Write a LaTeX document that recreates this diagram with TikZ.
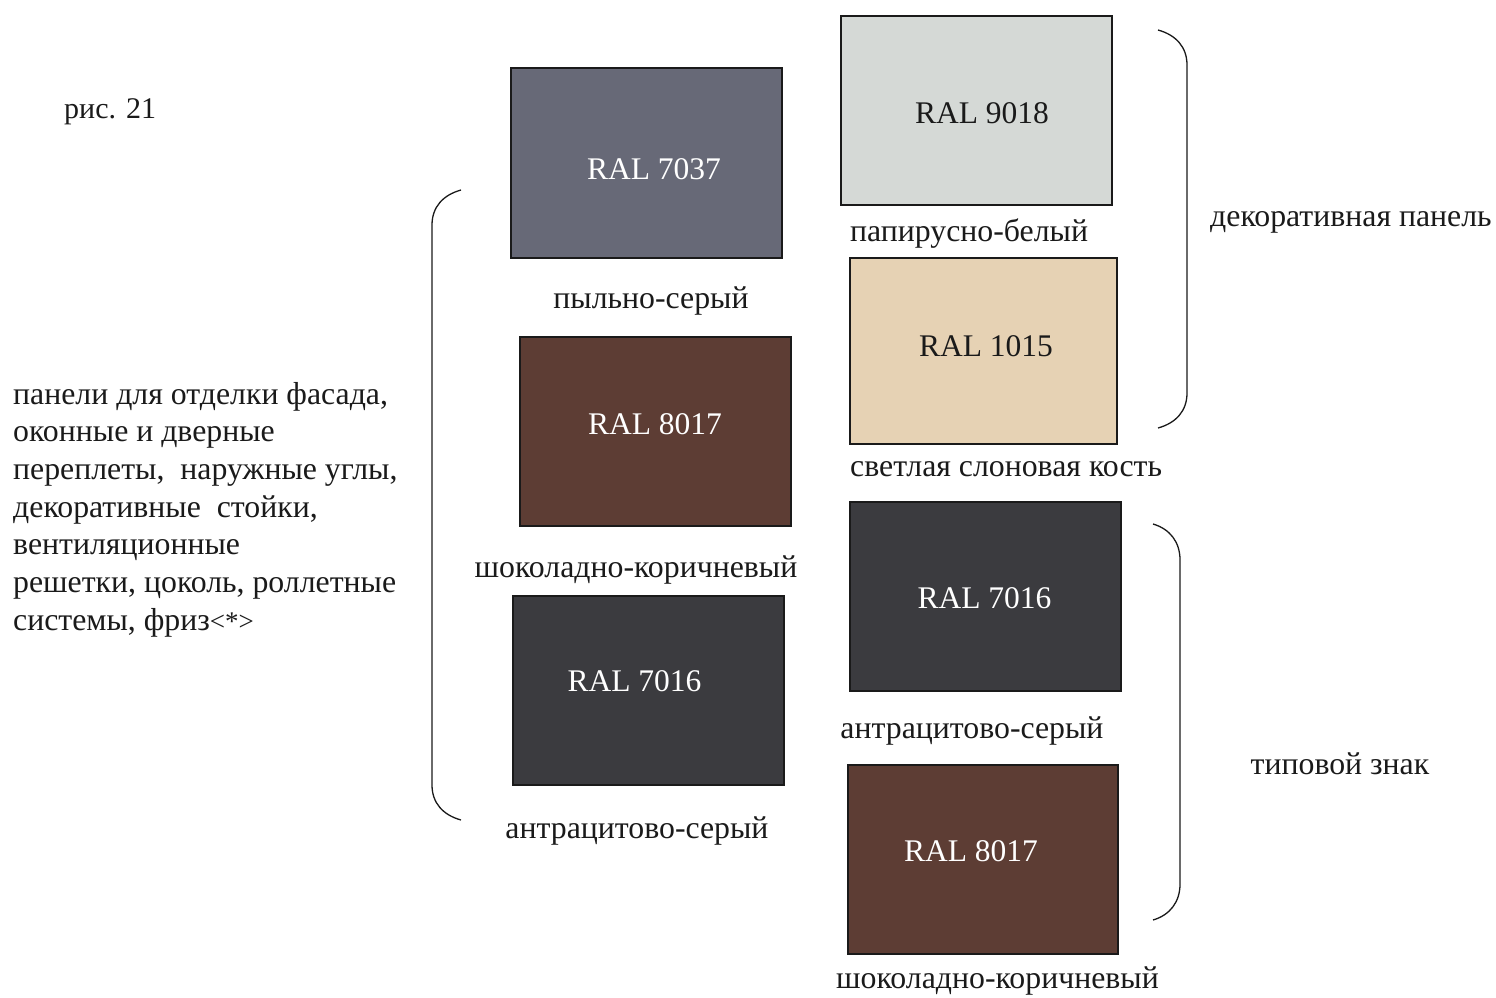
\documentclass[tikz,border=0pt]{standalone}
\usepackage{fontspec}
\setmainfont{Liberation Serif}
\definecolor{c7037}{HTML}{676977}
\definecolor{c9018}{HTML}{D5D9D6}
\definecolor{c1015}{HTML}{E6D2B4}
\definecolor{c8017}{HTML}{5D3D34}
\definecolor{c7016}{HTML}{3B3B3F}
\definecolor{ink}{HTML}{1A1A1A}
\begin{document}
\begin{tikzpicture}[x=1pt,y=-1pt,
  swatch/.style={draw=ink, line width=1.4pt, inner sep=0pt},
  txt/.style={inner sep=0pt, text=ink, font=\fontsize{31.8}{36}\selectfont},
  ral/.style={inner sep=0pt, text=white, anchor=base, font=\fontsize{31.5}{36}\selectfont},
  brace/.style={draw=ink, line width=1.3pt}]
\useasboundingbox (0,0) rectangle (1496,998);
% swatches
\node[swatch, fill=c7037, minimum width=271pt, minimum height=190pt] (s1) at (646.5,163) {};
\node[swatch, fill=c9018, minimum width=271pt, minimum height=189pt] (s2) at (976.5,110.5) {};
\node[swatch, fill=c1015, minimum width=267pt, minimum height=186pt] (s3) at (983.5,351) {};
\node[swatch, fill=c8017, minimum width=271pt, minimum height=189pt] (s4) at (655.5,431.5) {};
\node[swatch, fill=c7016, minimum width=271pt, minimum height=189pt] (s5) at (648.5,690.5) {};
\node[swatch, fill=c7016, minimum width=271pt, minimum height=189pt] (s6) at (985.5,596.5) {};
\node[swatch, fill=c8017, minimum width=270pt, minimum height=189pt] (s7) at (983,859.5) {};
% RAL labels
\node[ral] (r1) at (654,179) {RAL 7037};
\node[ral, text=ink] (r2) at (982,123) {RAL 9018};
\node[ral, text=ink] (r3) at (986,356) {RAL 1015};
\node[ral] (r4) at (655,434) {RAL 8017};
\node[ral] (r5) at (634.5,691) {RAL 7016};
\node[ral] (r6) at (984.5,608) {RAL 7016};
\node[ral] (r7) at (971,861) {RAL 8017};
% names
\node[txt, anchor=base west, font=\fontsize{30}{36}\selectfont] (fig) at (64,118) {рис. 21};
\node[txt, anchor=base] (n1) at (651,308) {пыльно-серый};
\node[txt, anchor=base west] (n2) at (850,241) {папирусно-белый};
\node[txt, anchor=base west] (n3) at (850,476) {светлая слоновая кость};
\node[txt, anchor=base] (n4) at (636,577) {шоколадно-коричневый};
\node[txt, anchor=base] (n5) at (637,838) {антрацитово-серый};
\node[txt, anchor=base] (n6) at (972,738) {антрацитово-серый};
\node[txt, anchor=base] (n7) at (997.5,988) {шоколадно-коричневый};
\node[txt, anchor=base west] (g1) at (1210,226) {декоративная панель};
\node[txt, anchor=base] (g2) at (1340,774) {типовой знак};
% left description
\node[txt, anchor=base west] (l1) at (13,404) {панели для отделки фасада,};
\node[txt, anchor=base west] (l2) at (13,441.7) {оконные и дверные};
\node[txt, anchor=base west] (l3) at (13,479.4) {переплеты,\ \ наружные углы,};
\node[txt, anchor=base west] (l4) at (13,517.1) {декоративные\ \ стойки,};
\node[txt, anchor=base west] (l5) at (13,554.8) {вентиляционные};
\node[txt, anchor=base west] (l6) at (13,592.5) {решетки, цоколь, роллетные};
\node[txt, anchor=base west] (l7) at (13,630.2) {системы, фриз{\fontsize{27}{30}\selectfont<*>}};
% braces
\coordinate (b1t) at (461,190);
\coordinate (b1b) at (461,820);
\draw[brace] (b1t) .. controls (443,195) and (432,207) .. (432,225) -- (432,785)
  .. controls (432,803) and (443,815) .. (b1b);
\coordinate (b2t) at (1158,30);
\coordinate (b2b) at (1158,428);
\draw[brace] (b2t) .. controls (1176,35) and (1187,47) .. (1187,65) -- (1187,393)
  .. controls (1187,411) and (1176,423) .. (b2b);
\coordinate (b3t) at (1153,524);
\coordinate (b3b) at (1153,920);
\draw[brace] (b3t) .. controls (1170,529) and (1180,542) .. (1180,560) -- (1180,884)
  .. controls (1180,902) and (1170,915) .. (b3b);
\end{tikzpicture}
\end{document}
